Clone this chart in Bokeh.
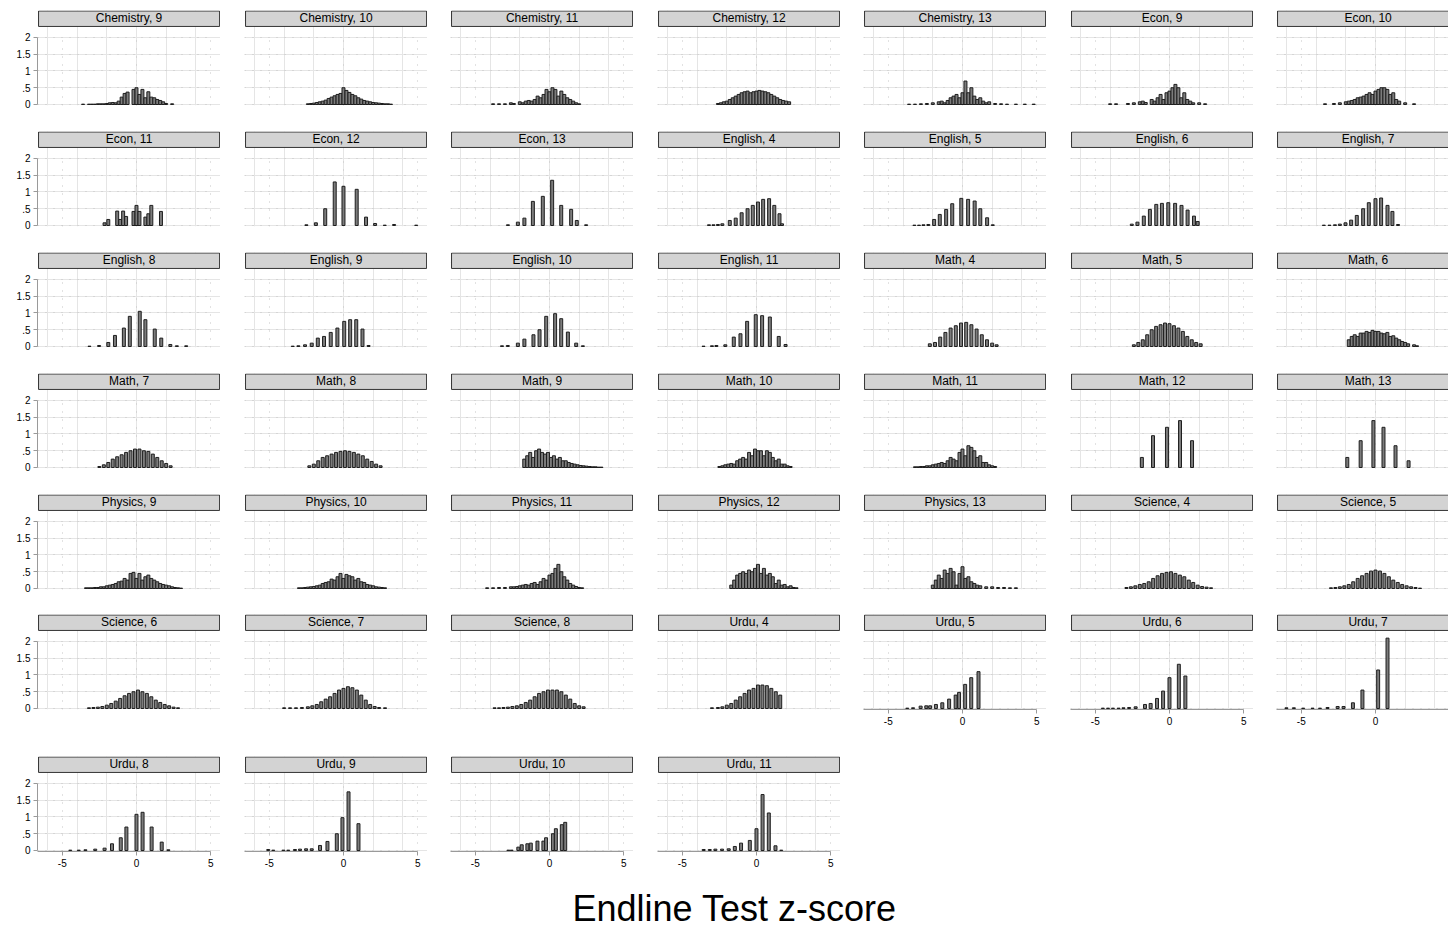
from bokeh.plotting import figure
from bokeh.models import Range1d, LinearAxis, Grid, FixedTicker, Label
from bokeh.layouts import column, row
from bokeh.embed import file_html
from bokeh.resources import INLINE

# ---------------- data: bar centres (z-score) and densities per panel ----------------
chemistry_9_z = [-3.6,-3.2,-3.0,-2.8,-2.6,-2.4,-2.2,-2.0,-1.8,-1.6,-1.4,-1.2,-1.0,-0.8,-0.6,-0.2,0.0,0.2,0.4,0.6,0.8,1.0,1.2,1.4,1.6,1.8,2.0,2.4]
chemistry_9_d = [.01,.01,.01,.01,.02,.02,.02,.03,.05,.06,.05,.1,.22,.33,.37,.45,.5,.3,.45,.2,.38,.22,.2,.15,.12,.08,.03,.02]
chemistry_10_z = [-2.4,-2.2,-2.0,-1.8,-1.6,-1.4,-1.2,-1.0,-0.8,-0.6,-0.4,-0.2,0.0,0.2,0.4,0.6,0.8,1.0,1.2,1.4,1.6,1.8,2.0,2.2,2.4,2.6,2.8,3.0,3.2]
chemistry_10_d = [.02,.03,.04,.06,.08,.1,.13,.18,.22,.26,.3,.33,.5,.42,.36,.3,.26,.2,.16,.12,.1,.08,.06,.05,.04,.03,.02,.02,.01]
chemistry_11_z = [-3.8,-3.4,-3.0,-2.6,-2.4,-2.0,-1.8,-1.6,-1.4,-1.2,-1.0,-0.8,-0.6,-0.4,-0.2,0.0,0.2,0.4,0.6,0.8,1.0,1.2,1.4,1.6,1.8,2.0]
chemistry_11_d = [.02,.02,.02,.05,.03,.08,.05,.1,.12,.1,.15,.25,.2,.3,.45,.38,.5,.45,.25,.4,.3,.2,.15,.1,.05,.02]
chemistry_12_z = [-2.6,-2.4,-2.2,-2.0,-1.8,-1.6,-1.4,-1.2,-1.0,-0.8,-0.6,-0.4,-0.2,0.0,0.2,0.4,0.6,0.8,1.0,1.2,1.4,1.6,1.8,2.0,2.2]
chemistry_12_d = [.03,.05,.08,.1,.15,.2,.25,.3,.35,.38,.4,.35,.38,.4,.42,.4,.38,.35,.3,.25,.2,.15,.12,.1,.08]
chemistry_13_z = [-3.6,-3.2,-2.8,-2.4,-2.0,-1.6,-1.4,-1.2,-1.0,-0.8,-0.6,-0.4,-0.2,0.0,0.2,0.4,0.6,0.8,1.0,1.2,1.4,1.6,1.8,2.2,2.6,3.0,3.6,4.2,4.8]
chemistry_13_d = [.01,.01,.02,.03,.05,.08,.1,.05,.12,.2,.25,.3,.2,.35,.7,.35,.5,.25,.15,.2,.1,.05,.08,.03,.02,.01,.01,.01,.01]
econ_9_z = [-4.0,-3.6,-2.8,-2.4,-2.0,-1.8,-1.6,-1.2,-1.0,-0.8,-0.6,-0.4,-0.2,0.0,0.2,0.4,0.6,0.8,1.0,1.2,1.4,1.6,2.0,2.4]
econ_9_d = [.02,.02,.03,.05,.08,.1,.06,.15,.1,.2,.3,.15,.35,.4,.5,.6,.5,.2,.35,.15,.1,.05,.05,.02]
econ_10_z = [-3.4,-2.8,-2.4,-2.0,-1.8,-1.6,-1.4,-1.2,-1.0,-0.8,-0.6,-0.4,-0.2,0.0,0.2,0.4,0.6,0.8,1.0,1.2,1.4,1.6,2.0,2.6]
econ_10_d = [.02,.03,.05,.08,.1,.12,.15,.2,.22,.25,.3,.35,.3,.4,.45,.5,.5,.45,.3,.35,.15,.1,.05,.02]
econ_11_z = [-2.15,-1.9,-1.3,-1.1,-0.9,-0.7,-0.2,0.0,0.2,0.6,0.8,1.0,1.65]
econ_11_d = [.08,.18,.43,.18,.43,.27,.42,.6,.42,.25,.35,.6,.42]
econ_12_z = [-2.5,-1.86,-1.23,-0.59,0.0,0.89,1.52,2.13,2.78,3.41,4.9]
econ_12_d = [.02,.08,.5,1.3,1.17,1.08,.25,.06,.01,.03,.01]
econ_13_z = [-2.8,-2.13,-1.69,-1.12,-0.45,0.18,0.79,1.46,1.84,2.47]
econ_13_d = [.02,.1,.22,.72,.87,1.35,.6,.48,.15,.02]
english_4_z = [-3.2,-2.9,-2.6,-2.3,-1.8,-1.4,-1.0,-0.6,-0.25,0.1,0.45,0.85,1.2,1.55,1.72]
english_4_d = [.02,.02,.03,.05,.15,.22,.38,.5,.6,.7,.78,.8,.6,.35,.05]
english_5_z = [-3.24,-2.93,-2.63,-2.3,-1.91,-1.53,-1.1,-0.69,-0.08,0.38,0.82,1.2,1.66,2.04]
english_5_d = [.01,.01,.02,.03,.18,.33,.48,.65,.81,.78,.73,.5,.23,.02]
english_6_z = [-2.54,-2.16,-1.73,-1.32,-0.89,-0.51,-0.08,0.38,0.81,1.22,1.65,1.9]
english_6_d = [.04,.1,.28,.48,.63,.66,.68,.66,.6,.46,.28,.12]
english_7_z = [-3.48,-3.1,-2.73,-2.4,-2.02,-1.64,-1.26,-0.83,-0.45,0.0,0.38,0.81,1.14,1.52]
english_7_d = [.01,.01,.02,.04,.08,.16,.3,.5,.68,.8,.82,.6,.42,.03]
english_8_z = [-3.17,-2.52,-1.9,-1.45,-0.85,-0.45,0.22,0.6,1.23,1.67,2.28,2.72,3.35]
english_8_d = [.01,.03,.12,.33,.55,.9,1.05,.8,.52,.25,.06,.02,.02]
english_9_z = [-3.42,-3.04,-2.59,-2.14,-1.73,-1.31,-0.86,-0.41,0.05,0.45,0.86,1.28,1.69]
english_9_d = [.01,.02,.05,.1,.25,.3,.42,.55,.75,.8,.8,.52,.03]
english_10_z = [-3.2,-2.81,-2.13,-1.69,-1.08,-0.67,-0.22,0.38,0.79,1.24,1.8,2.25]
english_10_d = [.02,.03,.1,.22,.35,.5,.9,.98,.83,.43,.1,.02]
english_11_z = [-3.57,-3.0,-2.7,-2.1,-1.53,-1.08,-0.63,-0.05,0.38,0.9,1.5,1.96]
english_11_d = [.01,.02,.03,.05,.28,.38,.75,.95,.92,.88,.3,.06]
math_4_z = [-2.2,-1.85,-1.5,-1.15,-0.8,-0.45,-0.1,0.25,0.6,0.95,1.3,1.65,2.0,2.3]
math_4_d = [.08,.12,.28,.42,.55,.62,.7,.72,.65,.52,.35,.2,.1,.05]
math_5_z = [-2.4,-2.1,-1.8,-1.5,-1.2,-0.9,-0.6,-0.3,0.0,0.3,0.6,0.9,1.2,1.5,1.8,2.1]
math_5_d = [.05,.12,.2,.35,.5,.6,.65,.7,.68,.62,.55,.45,.3,.2,.12,.08]
math_6_z = [-1.8,-1.6,-1.4,-1.2,-1.0,-0.8,-0.6,-0.4,-0.2,0.0,0.2,0.4,0.6,0.8,1.0,1.2,1.4,1.6,1.8,2.0,2.2,2.6,2.8]
math_6_d = [.2,.3,.35,.3,.4,.4,.45,.42,.48,.45,.45,.4,.38,.42,.3,.32,.25,.2,.15,.12,.08,.05,.02]
math_7_z = [-2.5,-2.2,-1.9,-1.6,-1.3,-1.0,-0.7,-0.4,-0.1,0.2,0.5,0.8,1.1,1.4,1.7,2.0,2.3]
math_7_d = [.03,.08,.15,.25,.32,.38,.45,.5,.55,.55,.5,.48,.4,.3,.2,.12,.05]
math_8_z = [-2.3,-2.0,-1.7,-1.4,-1.1,-0.8,-0.5,-0.2,0.1,0.4,0.7,1.0,1.3,1.6,1.9,2.2,2.5]
math_8_d = [.05,.1,.2,.3,.35,.4,.45,.48,.5,.48,.45,.4,.35,.25,.18,.1,.05]
math_9_z = [-1.7,-1.5,-1.3,-1.1,-0.9,-0.7,-0.5,-0.3,-0.1,0.1,0.3,0.5,0.7,0.9,1.1,1.3,1.5,1.7,1.9,2.1,2.3,2.5,2.7,2.9,3.1,3.3,3.5]
math_9_d = [.25,.35,.45,.3,.5,.55,.45,.4,.45,.3,.35,.25,.3,.2,.2,.15,.12,.1,.08,.06,.05,.04,.03,.02,.02,.01,.01]
math_10_z = [-2.5,-2.3,-2.1,-1.9,-1.7,-1.5,-1.3,-1.1,-0.9,-0.7,-0.5,-0.3,-0.1,0.1,0.3,0.5,0.7,0.9,1.1,1.3,1.5,1.7,1.9,2.1,2.3]
math_10_d = [.03,.05,.08,.1,.12,.1,.2,.25,.3,.25,.45,.35,.55,.5,.5,.35,.5,.45,.3,.2,.25,.1,.1,.05,.03]
math_11_z = [-3.2,-3.0,-2.8,-2.6,-2.4,-2.2,-2.0,-1.8,-1.6,-1.4,-1.2,-1.0,-0.8,-0.6,-0.4,-0.2,0.0,0.2,0.4,0.6,0.8,1.0,1.2,1.4,1.6,1.8,2.0,2.2]
math_11_d = [.02,.02,.03,.03,.05,.05,.08,.1,.12,.15,.12,.2,.3,.25,.2,.45,.55,.35,.65,.6,.5,.3,.35,.15,.15,.08,.05,.03]
math_12_z = [-1.86,-1.11,-0.17,0.71,1.52]
math_12_d = [.3,.95,1.2,1.4,.8]
math_13_z = [-1.9,-1.0,-0.14,0.54,1.35,2.23]
math_13_d = [.3,.8,1.4,1.2,.65,.2]
physics_9_z = [-3.4,-3.2,-3.0,-2.8,-2.6,-2.4,-2.2,-2.0,-1.8,-1.6,-1.4,-1.2,-1.0,-0.8,-0.6,-0.4,-0.2,0.0,0.2,0.4,0.6,0.8,1.0,1.2,1.4,1.6,1.8,2.0,2.2,2.4,2.6,2.8,3.0]
physics_9_d = [.02,.02,.02,.03,.03,.05,.05,.08,.1,.12,.15,.2,.22,.3,.25,.45,.48,.3,.45,.25,.35,.4,.3,.25,.2,.15,.12,.1,.08,.05,.03,.02,.01]
physics_10_z = [-3.0,-2.8,-2.6,-2.4,-2.2,-2.0,-1.8,-1.6,-1.4,-1.2,-1.0,-0.8,-0.6,-0.4,-0.2,0.0,0.2,0.4,0.6,0.8,1.0,1.2,1.4,1.6,1.8,2.0,2.2,2.4,2.6,2.8]
physics_10_d = [.02,.02,.03,.04,.05,.06,.08,.1,.15,.18,.2,.28,.25,.35,.45,.3,.42,.38,.35,.25,.3,.2,.18,.12,.1,.08,.05,.04,.03,.02]
physics_11_z = [-4.2,-3.8,-3.4,-3.0,-2.6,-2.4,-2.2,-2.0,-1.8,-1.6,-1.4,-1.2,-1.0,-0.8,-0.6,-0.4,-0.2,0.0,0.2,0.4,0.6,0.8,1.0,1.2,1.4,1.6,1.8,2.0,2.2]
physics_11_d = [.02,.02,.03,.03,.05,.05,.06,.08,.1,.12,.1,.15,.18,.12,.2,.3,.25,.4,.45,.6,.72,.5,.35,.25,.15,.1,.06,.03,.02]
physics_12_z = [-1.7,-1.5,-1.3,-1.1,-0.9,-0.7,-0.5,-0.3,-0.1,0.1,0.3,0.5,0.7,0.9,1.1,1.3,1.5,1.7,1.9,2.1,2.3,2.5,2.7]
physics_12_d = [.1,.25,.4,.45,.5,.45,.55,.5,.6,.72,.45,.6,.4,.45,.35,.15,.25,.1,.12,.05,.08,.03,.02]
physics_13_z = [-2.0,-1.8,-1.6,-1.4,-1.2,-1.0,-0.8,-0.6,-0.4,-0.2,0.0,0.2,0.4,0.6,0.8,1.0,1.2,1.6,2.0,2.4,2.8,3.2,3.6]
physics_13_d = [.1,.25,.4,.3,.55,.45,.6,.5,.1,.45,.65,.3,.35,.2,.15,.1,.08,.05,.05,.03,.03,.02,.02]
science_4_z = [-2.9,-2.6,-2.3,-2.0,-1.7,-1.4,-1.1,-0.8,-0.5,-0.2,0.1,0.4,0.7,1.0,1.3,1.6,1.9,2.2,2.5,2.8]
science_4_d = [.03,.05,.08,.12,.15,.2,.3,.38,.45,.48,.5,.45,.4,.35,.25,.18,.1,.06,.04,.02]
science_5_z = [-3.0,-2.7,-2.4,-2.1,-1.8,-1.5,-1.2,-0.9,-0.6,-0.3,0.0,0.3,0.6,0.9,1.2,1.5,1.8,2.1,2.4,2.7,3.0]
science_5_d = [.02,.03,.05,.08,.12,.2,.3,.38,.45,.52,.55,.52,.45,.35,.25,.18,.12,.08,.05,.03,.01]
science_6_z = [-3.2,-2.9,-2.6,-2.3,-2.0,-1.7,-1.4,-1.1,-0.8,-0.5,-0.2,0.1,0.4,0.7,1.0,1.3,1.6,1.9,2.2,2.5,2.8]
science_6_d = [.02,.03,.04,.06,.1,.15,.22,.3,.38,.45,.5,.55,.5,.45,.35,.25,.18,.12,.08,.04,.02]
science_7_z = [-4.0,-3.6,-3.2,-2.8,-2.4,-2.1,-1.8,-1.5,-1.2,-0.9,-0.6,-0.3,0.0,0.3,0.6,0.9,1.2,1.5,1.8,2.1,2.4,2.8]
science_7_d = [.02,.02,.02,.03,.05,.08,.12,.2,.28,.35,.45,.55,.6,.65,.62,.55,.4,.25,.12,.06,.03,.02]
science_8_z = [-3.7,-3.4,-3.1,-2.8,-2.5,-2.2,-1.9,-1.6,-1.3,-1.0,-0.7,-0.4,-0.1,0.2,0.5,0.8,1.1,1.4,1.7,2.0,2.3]
science_8_d = [.02,.02,.03,.04,.06,.08,.12,.18,.25,.35,.45,.5,.55,.55,.55,.5,.4,.28,.15,.08,.05]
urdu_4_z = [-3.0,-2.6,-2.3,-2.0,-1.7,-1.4,-1.1,-0.8,-0.5,-0.2,0.1,0.4,0.7,1.0,1.3,1.6]
urdu_4_d = [.02,.03,.05,.1,.15,.25,.35,.45,.55,.6,.7,.7,.68,.6,.5,.4]
urdu_5_z = [-3.72,-3.33,-2.82,-2.44,-2.18,-1.79,-1.36,-0.9,-0.46,-0.23,0.18,0.59,1.08]
urdu_5_d = [.01,.02,.07,.08,.08,.12,.17,.28,.4,.48,.72,.92,1.1]
urdu_6_z = [-4.49,-4.14,-3.81,-3.43,-3.1,-2.72,-2.28,-1.65,-1.27,-0.84,-0.43,0.0,0.63,1.07]
urdu_6_d = [.01,.01,.01,.01,.02,.03,.05,.12,.15,.3,.52,.92,1.32,.97]
urdu_7_z = [-6.0,-5.5,-4.87,-4.24,-3.74,-3.23,-2.55,-2.15,-1.52,-0.88,0.18,0.81]
urdu_7_d = [.02,.02,.01,.01,.01,.03,.06,.06,.17,.55,1.15,2.1]
urdu_8_z = [-4.46,-3.89,-3.44,-2.78,-2.15,-1.65,-1.06,-0.68,0.0,0.41,1.02,1.7,2.15]
urdu_8_d = [.01,.01,.02,.04,.07,.2,.38,.7,1.08,1.14,.7,.25,.02]
urdu_9_z = [-5.07,-4.73,-4.05,-3.72,-3.27,-2.93,-2.52,-2.14,-1.58,-1.08,-0.45,-0.07,0.34,1.01]
urdu_9_d = [.03,.01,.01,.01,.03,.04,.05,.05,.15,.27,.5,.98,1.75,.8]
urdu_10_z = [-2.77,-2.55,-2.1,-1.87,-1.49,-1.26,-0.81,-0.41,-0.23,0.23,0.43,0.83,1.06]
urdu_10_d = [.01,.01,.1,.17,.2,.22,.28,.28,.38,.5,.65,.77,.84]
urdu_11_z = [-3.56,-3.15,-2.77,-2.32,-1.87,-1.46,-1.04,-0.45,0.0,0.41,0.83,1.28,1.67]
urdu_11_d = [.03,.03,.04,.04,.05,.12,.22,.3,.65,1.67,1.12,.14,.01]

panel_titles = [
    "Chemistry, 9", "Chemistry, 10", "Chemistry, 11", "Chemistry, 12", "Chemistry, 13", "Econ, 9", "Econ, 10",
    "Econ, 11", "Econ, 12", "Econ, 13", "English, 4", "English, 5", "English, 6", "English, 7",
    "English, 8", "English, 9", "English, 10", "English, 11", "Math, 4", "Math, 5", "Math, 6",
    "Math, 7", "Math, 8", "Math, 9", "Math, 10", "Math, 11", "Math, 12", "Math, 13",
    "Physics, 9", "Physics, 10", "Physics, 11", "Physics, 12", "Physics, 13", "Science, 4", "Science, 5",
    "Science, 6", "Science, 7", "Science, 8", "Urdu, 4", "Urdu, 5", "Urdu, 6", "Urdu, 7",
    "Urdu, 8", "Urdu, 9", "Urdu, 10", "Urdu, 11",
]
panel_z = [chemistry_9_z, chemistry_10_z, chemistry_11_z, chemistry_12_z, chemistry_13_z, econ_9_z, econ_10_z,
           econ_11_z, econ_12_z, econ_13_z, english_4_z, english_5_z, english_6_z, english_7_z,
           english_8_z, english_9_z, english_10_z, english_11_z, math_4_z, math_5_z, math_6_z,
           math_7_z, math_8_z, math_9_z, math_10_z, math_11_z, math_12_z, math_13_z,
           physics_9_z, physics_10_z, physics_11_z, physics_12_z, physics_13_z, science_4_z, science_5_z,
           science_6_z, science_7_z, science_8_z, urdu_4_z, urdu_5_z, urdu_6_z, urdu_7_z,
           urdu_8_z, urdu_9_z, urdu_10_z, urdu_11_z]
panel_d = [chemistry_9_d, chemistry_10_d, chemistry_11_d, chemistry_12_d, chemistry_13_d, econ_9_d, econ_10_d,
           econ_11_d, econ_12_d, econ_13_d, english_4_d, english_5_d, english_6_d, english_7_d,
           english_8_d, english_9_d, english_10_d, english_11_d, math_4_d, math_5_d, math_6_d,
           math_7_d, math_8_d, math_9_d, math_10_d, math_11_d, math_12_d, math_13_d,
           physics_9_d, physics_10_d, physics_11_d, physics_12_d, physics_13_d, science_4_d, science_5_d,
           science_6_d, science_7_d, science_8_d, urdu_4_d, urdu_5_d, urdu_6_d, urdu_7_d,
           urdu_8_d, urdu_9_d, urdu_10_d, urdu_11_d]
x_ticks = [-5, 0, 5]
x_tick_labels = {-5: "-5", 0: "0", 5: "5"}
y_ticks = [0, 0.5, 1, 1.5, 2]
y_tick_labels = {0: "0", 0.5: ".5", 1: "1", 1.5: "1.5", 2: "2"}
bin_width = 0.2

# ---------------- layout / style constants ----------------
FONT = "Liberation Sans"
PX_PER_Z = 14.84
X_START = -6.67
FRAME_W = 183
FRAME_W_LAST = 172
FRAME_H = 95
Y_START, Y_END = -0.03, 2.806
HEADER_BOTTOM = 2.33
HEADER_LEFT, HEADER_RIGHT = -6.6, 5.6
COL_LEFT = [37, 24, 23, 24, 23, 24, 23]
ROW_H = [121, 121, 121, 121, 120, 142, 125]
TITLE_H = 930 - sum(ROW_H)
NCOLS = 7
GRID_COLOR = "#c4c4c4"
AXIS_COLOR = "#9a9a9a"
BAR_FILL = "#7c7c7c"
BAR_LINE = "#1e1e1e"
HEADER_FILL = "#d3d3d3"
X_AXIS_PANELS = {"Urdu, 5", "Urdu, 6", "Urdu, 7", "Urdu, 8", "Urdu, 9", "Urdu, 10", "Urdu, 11"}


def style_axis(ax):
    ax.axis_line_color = AXIS_COLOR
    ax.major_tick_line_color = AXIS_COLOR
    ax.major_tick_out = 4
    ax.major_tick_in = 0
    ax.minor_tick_line_color = None
    ax.major_label_text_font = FONT
    ax.major_label_text_font_size = "10px"
    ax.major_label_text_color = "black"
    ax.major_label_standoff = 3


def make_panel(idx, r, c):
    title = panel_titles[idx]
    fw = FRAME_W_LAST if c == NCOLS - 1 else FRAME_W
    x_end = X_START + fw / PX_PER_Z
    p = figure(width=COL_LEFT[c] + fw, height=ROW_H[r],
               x_range=Range1d(X_START, x_end), y_range=Range1d(Y_START, Y_END),
               x_axis_location=None, y_axis_location=None,
               min_border_left=COL_LEFT[c], min_border_right=0,
               min_border_top=10, min_border_bottom=ROW_H[r] - 10 - FRAME_H,
               toolbar_location=None, output_backend="svg", title=None)
    p.outline_line_color = None
    p.background_fill_color = "white"
    p.border_fill_color = "white"

    xg = Grid(dimension=0, ticker=FixedTicker(ticks=x_ticks), grid_line_color=GRID_COLOR,
              grid_line_dash="1 7", grid_line_width=1)
    yg = Grid(dimension=1, ticker=FixedTicker(ticks=y_ticks), grid_line_color=GRID_COLOR,
              grid_line_dash="1 7", grid_line_width=1)
    try:
        xg.cross_bounds = (Y_START, 2.1)
        yg.cross_bounds = (X_START, 5.0)
    except Exception:
        pass
    p.add_layout(xg, "center")
    p.add_layout(yg, "center")

    if c == 0:
        yax = LinearAxis(ticker=FixedTicker(ticks=y_ticks), bounds=(0, 2))
        yax.major_label_overrides = y_tick_labels
        style_axis(yax)
        p.add_layout(yax, "left")
    if title in X_AXIS_PANELS:
        xax = LinearAxis(ticker=FixedTicker(ticks=x_ticks), bounds=(X_START, 5))
        xax.major_label_overrides = x_tick_labels
        style_axis(xax)
        p.add_layout(xax, "below")

    p.vbar(x=panel_z[idx], top=panel_d[idx], bottom=0, width=bin_width,
           fill_color=BAR_FILL, line_color=BAR_LINE, line_width=1)

    # strip header
    p.quad(left=[HEADER_LEFT], right=[HEADER_RIGHT], bottom=[HEADER_BOTTOM], top=[Y_END - 0.015],
           fill_color=HEADER_FILL, line_color="#333333", line_width=1)
    p.add_layout(Label(x=(HEADER_LEFT + HEADER_RIGHT) / 2, y=(HEADER_BOTTOM + Y_END) / 2,
                       text=title, text_align="center", text_baseline="middle",
                       text_font=FONT, text_font_size="12px", text_color="black"))
    return p


rows = []
n = len(panel_titles)
for r in range(len(ROW_H)):
    figs = []
    for c in range(NCOLS):
        idx = r * NCOLS + c
        if idx < n:
            figs.append(make_panel(idx, r, c))
    rows.append(row(*figs))

tp = figure(width=1448, height=TITLE_H, x_range=Range1d(0, 1448), y_range=Range1d(0, TITLE_H),
            x_axis_location=None, y_axis_location=None, min_border=0,
            toolbar_location=None, output_backend="svg", title=None)
tp.outline_line_color = None
tp.xgrid.visible = False
tp.ygrid.visible = False
tp.add_layout(Label(x=734, y=TITLE_H - (908 - sum(ROW_H)), text="Endline Test z-score",
                    text_align="center", text_baseline="middle", text_font=FONT,
                    text_font_size="36px", text_color="black"))
rows.append(tp)

layout = column(*rows)
open("out.html", "w").write(file_html(layout, INLINE))
